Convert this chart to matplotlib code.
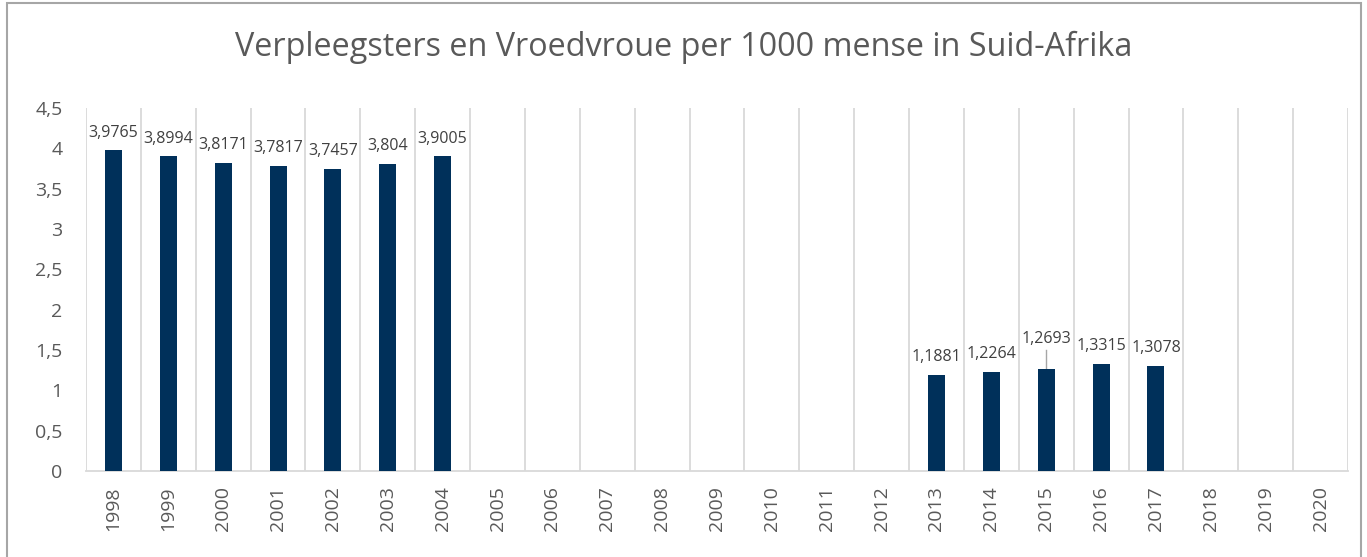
import matplotlib.pyplot as plt
import numpy as np
import matplotlib.patches as mpatches

plt.rcParams['font.family'] = ['Open Sans', 'DejaVu Sans']

years = [str(y) for y in range(1998, 2021)]
values = [3.9765, 3.8994, 3.8171, 3.7817, 3.7457, 3.804, 3.9005,
          None, None, None, None, None, None, None, None,
          1.1881, 1.2264, 1.2693, 1.3315, 1.3078,
          None, None, None]
labels = ["3,9765", "3,8994", "3,8171", "3,7817", "3,7457", "3,804", "3,9005",
          "", "", "", "", "", "", "", "",
          "1,1881", "1,2264", "1,2693", "1,3315", "1,3078",
          "", "", ""]
yticks = [0, 0.5, 1, 1.5, 2, 2.5, 3, 3.5, 4, 4.5]
ytick_labels = ["0", "0,5", "1", "1,5", "2", "2,5", "3", "3,5", "4", "4,5"]

bar_color = "#00305A"
text_color = "#595959"

fig = plt.figure(figsize=(13.67, 5.57), dpi=100)
# plot area: x 86..1348 px, y 108..471 px
ax = fig.add_axes([86 / 1367, (557 - 471) / 557, (1348 - 86) / 1367, (471 - 108) / 557])

x = np.arange(len(years))
vals = [v if v is not None else 0 for v in values]
ax.bar(x, vals, width=0.31, color=bar_color, zorder=3)

for i, (v, lab) in enumerate(zip(values, labels)):
    if v is None:
        continue
    if years[i] == "2015":
        # label moved up with a leader line, as in the original
        ax.plot([i, i], [v, 1.5], color="#A6A6A6", lw=1, zorder=2)
        ax.text(i, 1.54, lab, ha="center", va="bottom", fontsize=11.5, color="#404040")
    else:
        ax.text(i, v + 0.12, lab, ha="center", va="bottom", fontsize=11.5, color="#404040")

ax.set_xlim(-0.5, len(years) - 0.5)
ax.set_ylim(0, 4.5)
ax.set_yticks(yticks)
ax.set_yticklabels(ytick_labels, fontsize=14, color=text_color)
ax.set_xticks(x)
ax.set_xticklabels(years, rotation=90, fontsize=14, color=text_color)
ax.tick_params(axis="y", length=0, pad=17)
ax.tick_params(axis="x", length=0, pad=11)

# vertical gridlines between categories
for b in np.arange(-0.5, len(years), 1.0):
    ax.axvline(b, color="#D9D9D9", lw=1.3, zorder=1)

for s in ["top", "right", "left"]:
    ax.spines[s].set_visible(False)
ax.spines["bottom"].set_color("#D9D9D9")
ax.spines["bottom"].set_linewidth(1.3)

fig.text(0.5, 1 - 47 / 557, "Verpleegsters en Vroedvroue per 1000 mense in Suid-Afrika",
         ha="center", va="center", fontsize=23.3, color=text_color)

border = mpatches.Rectangle((7 / 1367, -0.01), (1361 - 7) / 1367, 1.005,
                            transform=fig.transFigure, fill=False,
                            edgecolor="#A6A6A6", lw=1.5)
fig.patches.append(border)

fig.savefig("out.png", dpi=100)
